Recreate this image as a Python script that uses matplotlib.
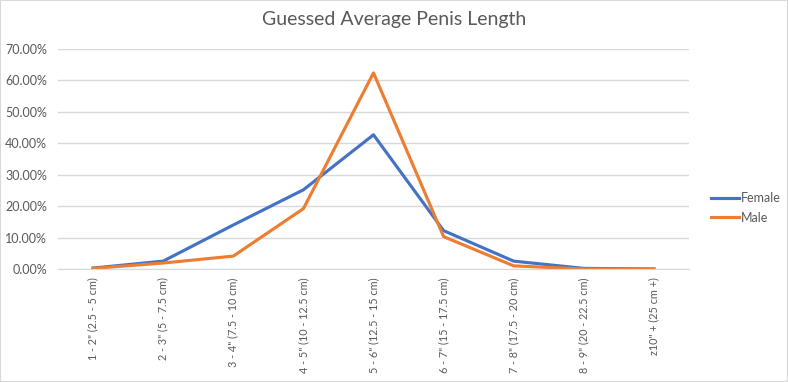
import matplotlib.pyplot as plt
import numpy as np

categories = ['1 - 2" (2.5 - 5 cm)', '2 - 3" (5 - 7.5 cm)', '3 - 4" (7.5 - 10 cm)',
              '4 - 5" (10 - 12.5 cm)', '5 - 6" (12.5 - 15 cm)', '6 - 7" (15 - 17.5 cm)',
              '7 - 8" (17.5 - 20 cm)', '8 - 9" (20 - 22.5 cm)', 'z10" + (25 cm +)']
female = [0.003, 0.025, 0.140, 0.252, 0.427, 0.122, 0.025, 0.002, 0.0]
male = [0.002, 0.019, 0.041, 0.192, 0.624, 0.103, 0.010, 0.0, 0.0]

plt.rcParams['font.family'] = ['Lato', 'DejaVu Sans']
grey = '#595959'

fig = plt.figure(figsize=(7.88, 3.82), dpi=100)
ax = fig.add_axes([58 / 788, 1 - 269 / 382, (689 - 58) / 788, (269 - 49) / 382])

x = np.arange(len(categories))
l1, = ax.plot(x, female, color='#4472C4', lw=2.25, label='Female', solid_joinstyle='round')
l2, = ax.plot(x, male, color='#ED7D31', lw=2.25, label='Male', solid_joinstyle='round')

ax.set_xlim(-0.5, len(categories) - 0.5)
ax.set_ylim(0, 0.7)
ax.set_yticks(np.arange(0, 0.71, 0.1))
ax.set_yticklabels(['{:.2f}%'.format(v * 100) for v in np.arange(0, 0.71, 0.1)])
ax.set_xticks(x)
ax.set_xticklabels(categories, rotation=90, va='top', fontsize=7.8)
ax.tick_params(axis='y', length=0, labelsize=9, colors=grey, pad=8)
ax.tick_params(axis='x', length=0, colors=grey, pad=6)
ax.yaxis.grid(True, color='#D9D9D9', lw=1)
ax.set_axisbelow(True)
for s in ['top', 'right', 'left']:
    ax.spines[s].set_visible(False)
ax.spines['bottom'].set_color('#D9D9D9')

fig.text(0.5, 1 - 20 / 382, 'Guessed Average Penis Length', ha='center', va='center',
         fontsize=14, color=grey)

fig.legend(handles=[l1, l2], loc='center left', bbox_to_anchor=(700 / 788, 1 - 208 / 382),
           frameon=False, fontsize=9, labelcolor=grey, handlelength=2.2,
           handletextpad=0.2, labelspacing=0.6)

fig.patches.append(plt.Rectangle((0, 0), 1, 1, transform=fig.transFigure, fill=False,
                                 edgecolor='#D9D9D9', lw=1.5))

fig.savefig('out.png', dpi=100)
